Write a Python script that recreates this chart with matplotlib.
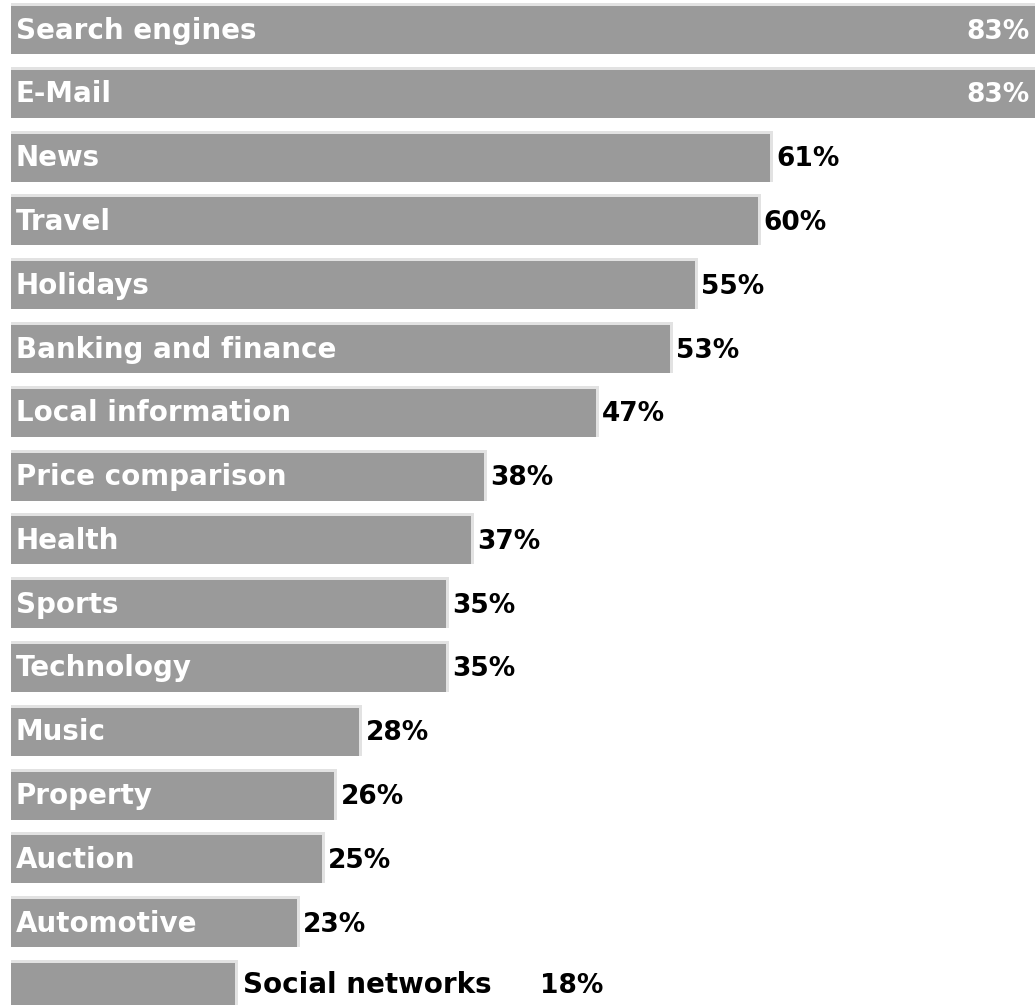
import matplotlib
matplotlib.use("Agg")
import matplotlib.pyplot as plt
from matplotlib.transforms import offset_copy

categories = [
    "Search engines", "E-Mail", "News", "Travel", "Holidays",
    "Banking and finance", "Local information", "Price comparison",
    "Health", "Sports", "Technology", "Music", "Property", "Auction",
    "Automotive", "Social networks",
]
values = [83, 83, 61, 60, 55, 53, 47, 38, 37, 35, 35, 28, 26, 25, 23, 18]
value_labels = [f"{v}%" for v in values]

BAR_DARK = "#9a9a9a"
BAR_LIGHT = "#e2e2e2"

W, H = 1035, 1005
fig = plt.figure(figsize=(W / 100, H / 100), dpi=100)
ax = fig.add_axes([0, 0, 1, 1])
ax.set_xlim(-0.884, 82.3)
ax.set_ylim(15.306, -0.447)
ax.axis("off")

px_x = 1 / 12.44      # one pixel in x data units
px_y = 1 / 63.8       # one pixel in y data units
bar_h = 0.8
rim = 3               # light rim thickness in pixels
base_drop = -8.5      # baseline sits this many pixels below bar centre

ypos = list(range(len(categories)))
# light rim (top and right), then darker body
ax.barh(ypos, [v + rim * px_x for v in values], height=bar_h,
        color=BAR_LIGHT, align="center", linewidth=0)
ax.barh([y + rim * px_y / 2 for y in ypos], values,
        height=bar_h - rim * px_y, color=BAR_DARK, align="center", linewidth=0)

cat_font = dict(family="DejaVu Sans", fontweight="bold", fontsize=20)
val_font = dict(family="DejaVu Sans", fontweight="bold", fontsize=19)


def shifted(dx, dy=base_drop):
    return offset_copy(ax.transData, fig=fig, x=dx, y=dy, units="dots")


last = len(categories) - 1
for i, (cat, v, lab) in enumerate(zip(categories, values, value_labels)):
    yc = i + rim * px_y / 2
    if i == last:
        # short bar: category and value both sit to the right of it
        ax.text(v, yc, cat, color="black", ha="left", va="baseline",
                transform=shifted(8, -6), **cat_font)
        ax.text(v, yc, lab, color="black", ha="left", va="baseline",
                transform=shifted(305, -6), **val_font)
        continue
    ax.text(0, yc, cat, color="white", ha="left", va="baseline",
            transform=shifted(5), **cat_font)
    if v >= 80:
        ax.text(82.3 - 5 * px_x, yc, lab, color="white", ha="right",
                va="baseline", transform=shifted(0), **val_font)
    else:
        ax.text(v + rim * px_x, yc, lab, color="black", ha="left",
                va="baseline", transform=shifted(3), **val_font)

fig.savefig("out.png", dpi=100, facecolor="white")
